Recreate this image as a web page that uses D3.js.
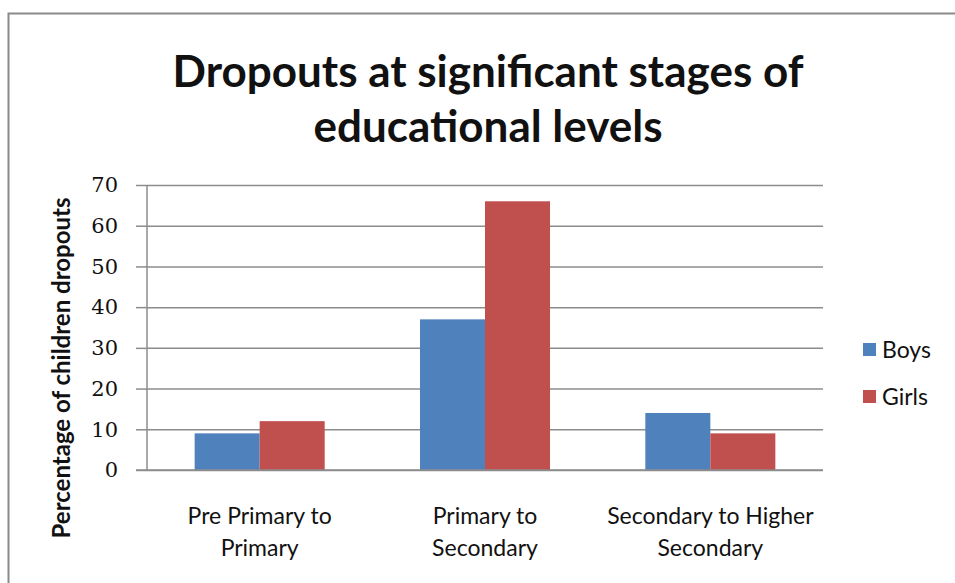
<!DOCTYPE html>
<html>
<head>
<meta charset="utf-8">
<script src="https://cdn.jsdelivr.net/npm/d3@7"></script>
<style>
  body { margin: 0; background: #fff; }
  svg { display: block; font-family: Lato, "Noto Sans", sans-serif; }
  .grid line { stroke: #8c8c8c; stroke-width: 1.5; }
  .grid path { display: none; }
  .yaxis text { font-family: "DejaVu Serif", serif; font-size: 21px; fill: #111; }
  .yaxis line, .yaxis path { stroke: #8c8c8c; stroke-width: 1.5; }
</style>
</head>
<body>
<svg width="955" height="583"></svg>
<script>
const width = 955;
const height = 583;

var categories = [["Pre Primary to", "Primary"], ["Primary to", "Secondary"], ["Secondary to Higher", "Secondary"]];
var seriesNames = ["Boys", "Girls"];
var boys = [9, 37, 14];
var girls = [12, 66, 9];
var yTicks = [0, 10, 20, 30, 40, 50, 60, 70];
var colors = ["#4f81bd", "#c0504d"];

var svg = d3.select("svg");

// outer chart frame, cut off at right and bottom
svg.append("rect")
    .attr("x", 8.5).attr("y", 13.5)
    .attr("width", 960).attr("height", 600)
    .attr("fill", "none")
    .attr("stroke", "#8a8a8a")
    .attr("stroke-width", 2);

const plotL = 147, plotR = 823, plotT = 185, plotB = 470;

var xScale = d3.scaleBand()
    .domain(d3.range(categories.length))
    .range([plotL, plotR])
    .paddingInner(0.423)
    .paddingOuter(0.2115);
var xInner = d3.scaleBand()
    .domain(seriesNames)
    .range([0, xScale.bandwidth()]);
var yScale = d3.scaleLinear().domain([0, 70]).range([plotB, plotT]);

// gridlines
svg.append("g")
    .attr("class", "grid")
    .attr("transform", `translate(${plotL},0)`)
    .call(d3.axisLeft(yScale).tickValues(yTicks).tickSize(-(plotR - plotL)).tickFormat(""));

// y axis with ticks
svg.append("g")
    .attr("class", "yaxis")
    .attr("transform", `translate(${plotL},0)`)
    .call(d3.axisLeft(yScale).tickValues(yTicks).tickSize(11).tickSizeOuter(0).tickPadding(18))
    .call(g => g.select(".domain").attr("d", `M0,${plotT}V${plotB}`));

var rows = categories.map((c, i) => ({ i: i, vals: [boys[i], girls[i]] }));

var groups = svg.selectAll("g.cat")
    .data(rows)
    .enter()
    .append("g")
    .attr("class", "cat")
    .attr("transform", d => `translate(${xScale(d.i)},0)`);

groups.selectAll("rect")
    .data(d => d.vals.map((v, k) => ({ k: k, v: v })))
    .enter()
    .append("rect")
    .attr("x", d => xInner(seriesNames[d.k]))
    .attr("y", d => yScale(d.v))
    .attr("width", xInner.bandwidth())
    .attr("height", d => plotB - yScale(d.v))
    .attr("fill", d => colors[d.k]);

// x axis line
svg.append("line")
    .attr("x1", plotL - 11).attr("x2", plotR)
    .attr("y1", plotB).attr("y2", plotB)
    .attr("stroke", "#8c8c8c").attr("stroke-width", 1.5);

// category labels
groups.each(function(d) {
    var t = d3.select(this).append("text")
        .attr("x", xScale.bandwidth() / 2)
        .attr("text-anchor", "middle")
        .attr("font-size", 23)
        .attr("fill", "#111");
    categories[d.i].forEach((line, j) => {
        t.append("tspan")
            .attr("x", xScale.bandwidth() / 2)
            .attr("y", 524 + j * 32)
            .text(line);
    });
});

// title
var title = ["Dropouts at significant stages of", "educational levels"];
svg.append("text")
    .attr("text-anchor", "middle")
    .attr("font-weight", "bold")
    .attr("font-size", 44)
    .attr("fill", "#111")
    .selectAll("tspan")
    .data(title)
    .enter()
    .append("tspan")
    .attr("x", 488)
    .attr("y", (d, i) => 87 + i * 55)
    .text(d => d);

// y axis title
svg.append("text")
    .attr("transform", "translate(70,368) rotate(-90)")
    .attr("text-anchor", "middle")
    .attr("font-weight", "bold")
    .attr("font-size", 24)
    .attr("fill", "#111")
    .text("Percentage of children dropouts");

// legend
var legend = svg.selectAll("g.legend")
    .data(seriesNames)
    .enter()
    .append("g")
    .attr("class", "legend")
    .attr("transform", (d, i) => `translate(863,${343 + i * 47})`);
legend.append("rect")
    .attr("width", 13).attr("height", 13)
    .attr("fill", (d, i) => colors[i]);
legend.append("text")
    .attr("x", 19).attr("y", 15)
    .attr("font-size", 23)
    .attr("fill", "#111")
    .text(d => d);
</script>
</body>
</html>
